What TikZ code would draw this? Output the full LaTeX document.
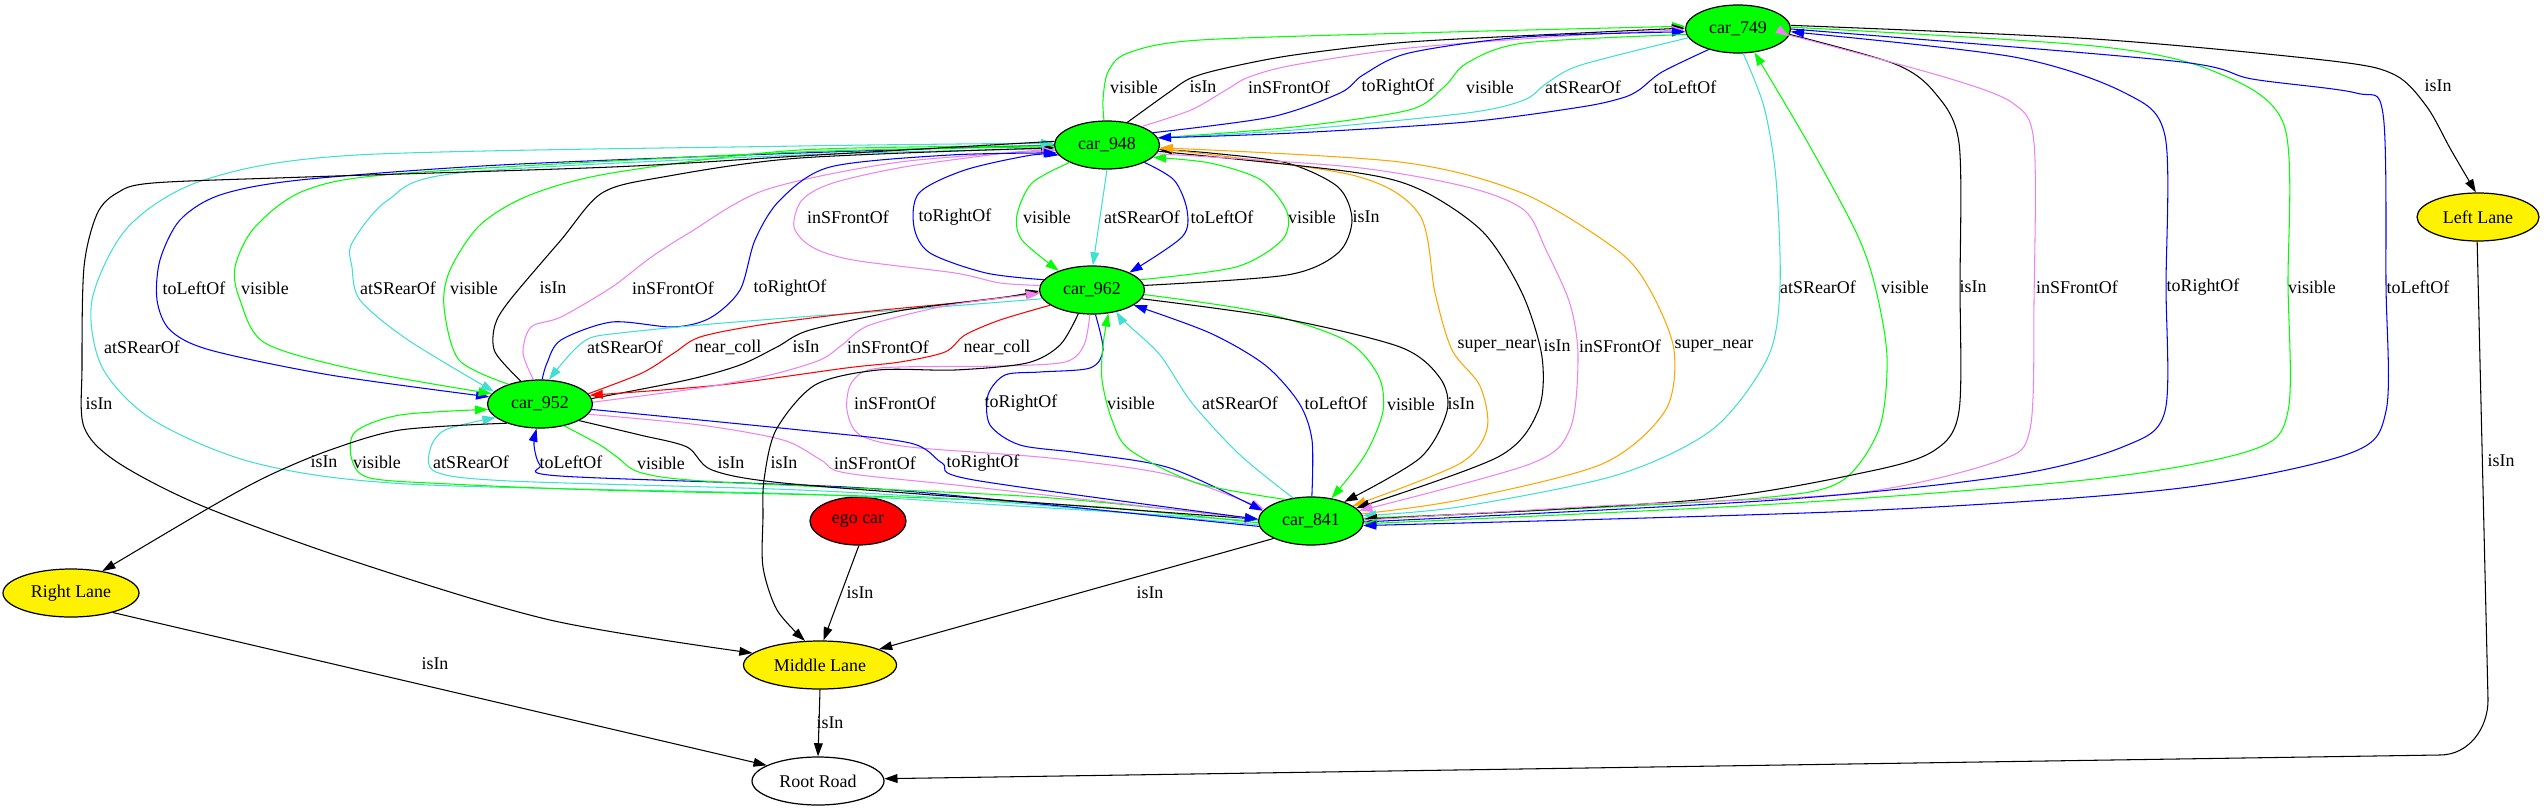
\documentclass[tikz,border=0pt]{standalone}
\usepackage{fontspec}
\setmainfont{Liberation Serif}
\usepackage{xcolor}
\usetikzlibrary{shapes.geometric,arrows.meta}
\definecolor{gvviolet}{HTML}{EE82EE}
\definecolor{gvturq}{HTML}{40E0D0}
\definecolor{gvorange}{HTML}{FFA500}
\newcommand{\gvfont}{\fontsize{10.2}{12}\selectfont}

\begin{document}
\begin{tikzpicture}[x=0.02cm,y=-0.02cm,
    >={Triangle[length=7.5pt,width=5pt]},
    obj/.style={ellipse,draw,line width=0.7pt,inner sep=0pt,minimum height=0.96cm,font=\gvfont},
    car/.style={obj,fill=green,minimum width=2.1cm},
    lane/.style={obj,fill=yellow},
    lab/.style={inner sep=0pt,font=\gvfont},
    rel/.style={line width=0.6pt,smooth,tension=0.5,->},
    evis/.style={rel,green},
    eisin/.style={rel,black},
    efront/.style={rel,gvviolet},
    erear/.style={rel,gvturq},
    eside/.style={rel,blue},
    ecoll/.style={rel,red},
    esnear/.style={rel,gvorange}]
  \useasboundingbox (0,0) rectangle (2544,811);

  % objects of the scene
  \node[car] (c749) at (1738,29) {car\_749};
  \node[car] (c948) at (1107,145) {car\_948};
  \node[car] (c962) at (1092,290) {car\_962};
  \node[car] (c952) at (540,404) {car\_952};
  \node[car] (c841) at (1311,521) {car\_841};
  \node[obj,fill=red,minimum width=1.92cm] (ego) at (858,521) {ego car};
  \node[lane,minimum width=2.44cm] (lleft) at (2478,217) {Left Lane};
  \node[lane,minimum width=2.72cm] (lright) at (71,593) {Right Lane};
  \node[lane,minimum width=3.06cm] (lmid) at (820,665) {Middle Lane};
  \node[obj,fill=white,minimum width=2.64cm] (root) at (818,781) {Root Road};

  % car_948 <-> car_749
  \draw[evis] plot coordinates {(c948.97) (1103,100) (1108,72) (1128,53) (1200,40) (1450,32) (c749.177)};
  \draw[eisin] plot coordinates {(c948.48) (1168,93) (1191,78) (1226,68) (1294,55) (1409,42) (1581,33) (c749.179)};
  \draw[efront] plot coordinates {(c948.28) (1191,110) (1226,90) (1249,77) (1294,65) (1409,48) (1581,35) (c749.181)};
  \draw[eside] plot coordinates {(c948.15) (1271,117) (1340,93) (1363,75) (1409,53) (1524,37) (c749.183)};
  \draw[evis] plot coordinates {(c749.186) (1524,43) (1467,63) (1444,87) (1409,110) (1294,127) (c948.8)};
  \draw[erear] plot coordinates {(c749.190) (1581,65) (1547,83) (1524,100) (1467,113) (1294,130) (c948.8)};
  \draw[eside] plot coordinates {(c749.215) (1662,72) (1639,90) (1622,98) (1581,107) (1467,122) (1294,133) (c948.8)};
  \node[lab] (la1) at (1134,87) {visible};
  \node[lab] (la2) at (1203,87) {isIn};
  \node[lab] (la3) at (1289,87) {inSFrontOf};
  \node[lab] (la4) at (1398,87) {toRightOf};
  \node[lab] (la5) at (1490,87) {visible};
  \node[lab] (la6) at (1583,87) {atSRearOf};
  \node[lab] (la7) at (1685,87) {toLeftOf};

  % car_948 <-> car_962
  \draw[efront] plot coordinates {(c962.175) (1000,283) (955,273) (853,260) (812,247) (794,227) (802,200) (833,183) (904,167) (1006,153) (c948.185)};
  \draw[eside] plot coordinates {(c962.168) (986,273) (930,253) (914,227) (919,193) (965,170) (1032,155) (c948.192)};
  \draw[evis] plot coordinates {(c948.205) (1032,183) (1017,215) (1022,240) (c962.150)};
  \draw[erear] plot coordinates {(c948.270) (1100,217) (c962.88)};
  \draw[eside] plot coordinates {(c948.335) (1174,180) (1187,210) (1182,237) (c962.25)};
  \draw[evis] plot coordinates {(c962.12) (1236,267) (1282,240) (1287,212) (1261,180) (1210,163) (c948.345)};
  \draw[eisin] plot coordinates {(c962.5) (1287,275) (1338,253) (1352,220) (1338,187) (1287,163) (1210,153) (c948.355)};
  \node[lab] (lb1) at (848,217) {inSFrontOf};
  \node[lab] (lb2) at (955,217) {toRightOf};
  \node[lab] (lb3) at (1047,217) {visible};
  \node[lab] (lb4) at (1142,217) {atSRearOf};
  \node[lab] (lb5) at (1222,217) {toLeftOf};
  \node[lab] (lb6) at (1312,217) {visible};
  \node[lab] (lb7) at (1366,217) {isIn};

  % car_948 <-> car_952
  \draw[eside] plot coordinates {(c948.180) (800,153) (500,165) (300,180) (220,195) (180,220) (160,260) (157,300) (170,330) (210,350) (330,375) (c952.172)};
  \draw[evis] plot coordinates {(c948.182) (800,152) (408,173) (306,190) (255,227) (235,267) (240,300) (265,343) (357,370) (c952.168)};
  \draw[erear] plot coordinates {(c948.184) (800,155) (459,173) (388,200) (352,243) (352,267) (360,300) (408,340) (c952.165)};
  \draw[evis] plot coordinates {(c952.148) (459,360) (444,307) (450,270) (480,225) (530,195) (612,173) (800,150) (c948.181)};
  \draw[eisin] plot coordinates {(c952.130) (495,352) (495,325) (510,300) (561,240) (602,193) (663,177) (800,158) (c948.183)};
  \draw[efront] plot coordinates {(c952.105) (523,353) (531,327) (561,317) (612,287) (650,258) (689,233) (765,190) (900,162) (c948.186)};
  \draw[eside] plot coordinates {(c952.85) (547,363) (561,340) (612,322) (673,327) (710,318) (740,290) (755,240) (780,200) (830,167) (950,155) (c948.189)};
  \node[lab] (lc1) at (194,288) {toLeftOf};
  \node[lab] (lc2) at (265,288) {visible};
  \node[lab] (lc3) at (398,288) {atSRearOf};
  \node[lab] (lc4) at (474,288) {visible};
  \node[lab] (lc5) at (553,288) {isIn};
  \node[lab] (lc6) at (673,288) {inSFrontOf};
  \node[lab] (lc7) at (790,288) {toRightOf};

  % car_841 -> car_948, car_948 -> Middle Lane (round the left side)
  \draw[erear] plot coordinates {(c841.180) (1000,505) (800,494) (408,484) (255,463) (153,420) (102,367) (92,300) (128,227) (204,180) (357,155) (800,146) (c948.178)};
  \draw[eisin] plot coordinates {(c948.176) (800,156) (612,167) (306,177) (153,183) (117,193) (97,214) (84,267) (82,367) (84,427) (117,462) (200,505) (350,560) (550,620) (lmid.170)};
  \node[lab] (le0) at (142,347) {atSRearOf};
  \node[lab] (lg0) at (99,404) {isIn};

  % car_962 <-> car_952
  \draw[erear] plot coordinates {(c962.190) (900,310) (800,317) (700,325) (620,333) (590,338) (572,352) (c952.70)};
  \draw[ecoll] plot coordinates {(c952.12) (642,373) (674,353) (700,337) (760,325) (853,313) (955,303) (c962.183)};
  \draw[eisin] plot coordinates {(c952.6) (687,380) (740,365) (777,347) (810,330) (904,310) (1000,298) (c962.181)};
  \draw[ecoll] plot coordinates {(c962.200) (1000,320) (965,335) (945,352) (900,362) (846,368) (720,385) (c952.10)};
  \draw[efront] plot coordinates {(c952.2) (700,388) (770,375) (820,360) (842,345) (870,325) (950,305) (c962.184)};
  \node[lab] (le1) at (625,347) {atSRearOf};
  \node[lab] (le2) at (728,347) {near\_coll};
  \node[lab] (le3) at (806,347) {isIn};
  \node[lab] (le4) at (888,347) {inSFrontOf};
  \node[lab] (le5) at (997,347) {near\_coll};

  % car_962 <-> car_841
  \draw[efront] plot coordinates {(c962.265) (1084,345) (1065,362) (1000,366) (880,368) (852,382) (847,410) (860,435) (910,447) (1050,458) (1170,475) (c841.166)};
  \draw[eside] plot coordinates {(c962.278) (1103,350) (1090,368) (1040,372) (1005,375) (988,395) (990,425) (1020,445) (1080,453) (1170,468) (c841.168)};
  \draw[evis] plot coordinates {(c841.140) (1197,483) (1130,450) (1112,420) (1102,380) (1103,345) (c962.305)};
  \draw[erear] plot coordinates {(c841.128) (1240,455) (1192,403) (1160,355) (1125,322) (c962.318)};
  \draw[eside] plot coordinates {(c841.88) (1312,440) (1299,403) (1265,365) (1210,333) (c962.340)};
  \draw[evis] plot coordinates {(c962.355) (1260,312) (1345,340) (1378,375) (1383,411) (1365,455) (c841.48)};
  \draw[eisin] plot coordinates {(c962.350) (1280,318) (1400,347) (1440,378) (1447,411) (1420,458) (c841.30)};
  \node[lab] (lg1) at (895,403) {inSFrontOf};
  \node[lab] (lg2) at (1021,403) {toRightOf};
  \node[lab] (lg3) at (1131,403) {visible};
  \node[lab] (lg4) at (1240,403) {atSRearOf};
  \node[lab] (lg5) at (1336,403) {toLeftOf};
  \node[lab] (lg6) at (1411,404) {visible};
  \node[lab] (lg7) at (1461,404) {isIn};

  % car_948 <-> car_841
  \draw[esnear] plot coordinates {(c948.356) (1352,175) (1419,214) (1435,293) (1452,350) (1480,386) (1487,429) (1459,464) (c841.20)};
  \draw[eisin] plot coordinates {(c948.353) (1352,172) (1421,190) (1483,232) (1522,293) (1542,357) (1538,411) (1498,457) (c841.16)};
  \draw[efront] plot coordinates {(c948.350) (1352,167) (1467,187) (1524,210) (1546,250) (1570,304) (1578,357) (1570,429) (1530,464) (c841.12)};
  \draw[esnear] plot coordinates {(c841.8) (1459,500) (1602,464) (1665,411) (1674,350) (1650,290) (1617,250) (1522,193) (1400,162) (c948.357)};
  \node[lab] (lf1) at (1497,346) {super\_near};
  \node[lab] (lf2) at (1557,346) {isIn};
  \node[lab] (lf3) at (1620,346) {inSFrontOf};
  \node[lab] (lf4) at (1714,346) {super\_near};

  % car_749 <-> car_841
  \draw[erear] plot coordinates {(c749.282) (1764,107) (1776,179) (1780,286) (1768,357) (1713,429) (1617,475) (1459,507) (c841.6)};
  \draw[evis] plot coordinates {(c841.3) (1550,510) (1760,498) (1840,482) (1879,429) (1887,357) (1875,286) (1856,232) (1808,143) (c749.305)};
  \draw[eisin] plot coordinates {(c749.354) (1895,64) (1935,93) (1959,143) (1960,286) (1959,411) (1935,450) (1871,471) (1697,500) (c841.2)};
  \draw[efront] plot coordinates {(c841.1) (1600,506) (1856,493) (1998,461) (2030,429) (2034,300) (2034,143) (2014,104) (1951,79) (1808,40) (c749.352)};
  \draw[eside] plot coordinates {(c841.359) (1776,500) (2014,475) (2125,446) (2165,411) (2166,286) (2165,136) (2125,93) (2014,57) (c749.357)};
  \draw[evis] plot coordinates {(c749.2) (2094,46) (2213,71) (2284,125) (2288,286) (2288,411) (2252,450) (2094,479) (1776,504) (c841.357)};
  \draw[eside] plot coordinates {(c749.0) (2173,61) (2252,79) (2356,93) (2383,114) (2386,286) (2386,411) (2348,454) (2173,489) (1856,511) (c841.355)};
  \node[lab] (ld1) at (1818,287) {atSRearOf};
  \node[lab] (ld2) at (1905,287) {visible};
  \node[lab] (ld3) at (1973,287) {isIn};
  \node[lab] (ld4) at (2077,287) {inSFrontOf};
  \node[lab] (ld5) at (2203,287) {toRightOf};
  \node[lab] (ld6) at (2312,287) {visible};
  \node[lab] (ld7) at (2418,287) {toLeftOf};

  % car_952 <-> car_841
  \draw[evis] plot coordinates {(c841.182) (1100,507) (900,497) (600,490) (450,484) (370,478) (352,460) (355,432) (400,415) (c952.186)};
  \draw[erear] plot coordinates {(c841.184) (1000,502) (800,490) (510,481) (436,472) (430,450) (445,430) (c952.197)};
  \draw[eside] plot coordinates {(c841.186) (1000,500) (846,487) (560,476) (540,465) (534,445) (c952.262)};
  \draw[evis] plot coordinates {(c952.318) (600,445) (617,457) (642,473) (719,482) (1038,497) (c841.178)};
  \draw[eisin] plot coordinates {(c952.337) (640,435) (687,447) (712,470) (783,483) (1000,500) (c841.178)};
  \draw[efront] plot coordinates {(c952.348) (700,425) (783,440) (821,460) (846,473) (974,487) (c841.178)};
  \draw[eside] plot coordinates {(c952.354) (800,430) (910,443) (942,463) (974,480) (c841.178)};
  \node[lab] (lh1) at (377,462) {visible};
  \node[lab] (lh2) at (471,462) {atSRearOf};
  \node[lab] (lh3) at (571,462) {toLeftOf};
  \node[lab] (lh4) at (661,463) {visible};
  \node[lab] (lh5) at (731,463) {isIn};
  \node[lab] (lh7) at (875,463) {inSFrontOf};
  \node[lab] (lh8) at (983,463) {toRightOf};

  % lanes and road
  \draw[eisin] plot coordinates {(c749.4) (2094,39) (2332,61) (2395,75) (2427,107) (2451,150) (lleft.95)};
  \draw[eisin] (lleft.268) -- (2488,700) to[out=-90,in=0] (2440,755) -- (root.2);
  \draw[eisin] plot coordinates {(c952.210) (400,430) (330,450) (270,475) (214,505) (lright.35)};
  \draw[eisin] plot coordinates {(c962.240) (1060,345) (1027,363) (955,370) (878,370) (815,385) (776,430) (764,480) (763,517) (763,567) (777,610) (lmid.122)};
  \draw[eisin] (ego.272) -- (lmid.82);
  \draw[eisin] (c841.205) -- (lmid.15);
  \draw[eisin] (lright.335) -- (root.163);
  \draw[eisin] (lmid.270) -- (root.90);
  \node[lab] (la8) at (2438,86) {isIn};
  \node[lab] (lh9) at (2501,461) {isIn};
  \node[lab] (lh0) at (324,462) {isIn};
  \node[lab] (lh6) at (784,463) {isIn};
  \node[lab] (li1) at (860,593) {isIn};
  \node[lab] (li2) at (1150,593) {isIn};
  \node[lab] (li3) at (435,664) {isIn};
  \node[lab] (li4) at (830,723) {isIn};
\end{tikzpicture}
\end{document}
